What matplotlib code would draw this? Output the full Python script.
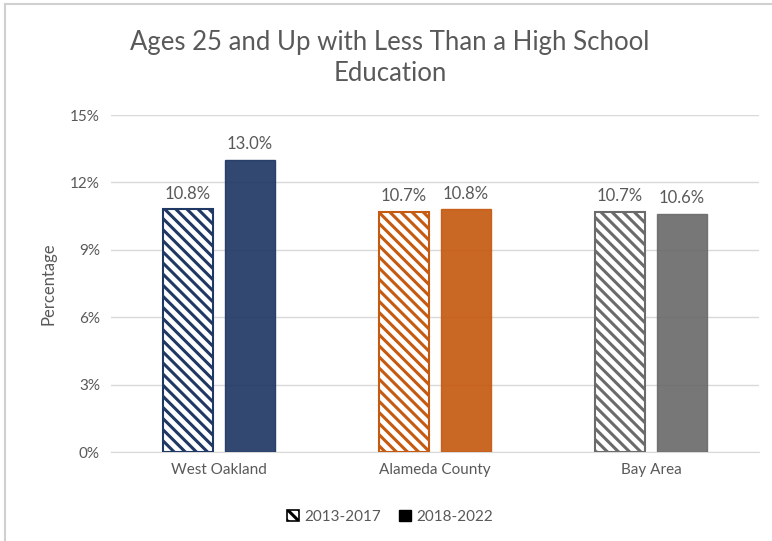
import matplotlib.pyplot as plt
from matplotlib.lines import Line2D
from matplotlib.patches import Patch
import numpy as np

plt.rcParams['font.family'] = ['Lato', 'DejaVu Sans']
plt.rcParams['hatch.linewidth'] = 2.2

categories = ["West Oakland", "Alameda County", "Bay Area"]
values_2013_2017 = [10.8, 10.7, 10.7]
values_2018_2022 = [13.0, 10.8, 10.6]
labels_2013_2017 = ["10.8%", "10.7%", "10.7%"]
labels_2018_2022 = ["13.0%", "10.8%", "10.6%"]
colors = ["#203864", "#C55A11", "#6B6B6B"]
yticks = [0, 3, 6, 9, 12, 15]
ytick_labels = ["0%", "3%", "6%", "9%", "12%", "15%"]

text_color = "#595959"

fig = plt.figure(figsize=(7.72, 5.41), dpi=100)
ax = fig.add_axes([0.1438, 0.1645, 0.8392, 0.6229])

x = np.arange(len(categories))
width = 0.23
offset = 0.1435

for i in range(len(categories)):
    ax.bar(x[i] - offset, values_2013_2017[i], width, facecolor="white",
           edgecolor=colors[i], hatch="\\\\\\", linewidth=1.5, zorder=3)
    ax.bar(x[i] + offset, values_2018_2022[i], width, color=colors[i],
           edgecolor=colors[i], linewidth=1, alpha=0.92, zorder=3)
    ax.text(x[i] - offset, values_2013_2017[i] + 0.35, labels_2013_2017[i],
            ha="center", va="bottom", fontsize=12, color=text_color)
    ax.text(x[i] + offset, values_2018_2022[i] + 0.35, labels_2018_2022[i],
            ha="center", va="bottom", fontsize=12, color=text_color)

ax.set_xlim(-0.5, 2.5)
ax.set_ylim(0, 15)
ax.set_yticks(yticks)
ax.set_yticklabels(ytick_labels)
ax.set_xticks(x)
ax.set_xticklabels(categories)
ax.tick_params(axis="both", length=0, labelsize=11, colors=text_color, pad=8)
ax.grid(axis="y", color="#D9D9D9", linewidth=1, zorder=0)
ax.set_axisbelow(True)
for s in ["top", "right", "left"]:
    ax.spines[s].set_visible(False)
ax.spines["bottom"].set_color("#D9D9D9")

ax.set_ylabel("Percentage", fontsize=12, color=text_color, labelpad=10)

fig.text(0.505, 0.893, "Ages 25 and Up with Less Than a High School\nEducation",
         ha="center", va="center", fontsize=18.5, color=text_color, linespacing=1.3)

handles = [Patch(facecolor="white", edgecolor="black", hatch="\\\\\\", linewidth=1.2),
           Patch(facecolor="black", edgecolor="black")]
fig.legend(handles, ["2013-2017", "2018-2022"], loc="center", bbox_to_anchor=(0.505, 0.045),
           ncol=2, frameon=False, fontsize=11, handlelength=0.8, handleheight=0.8,
           handletextpad=0.3, columnspacing=1.2, labelcolor=text_color)

# light border on the left and top of the chart area
fig.add_artist(Line2D([0.006, 0.006], [0.0, 0.993], color="#D0D0D0", linewidth=1.5))
fig.add_artist(Line2D([0.006, 1.0], [0.993, 0.993], color="#D0D0D0", linewidth=1.5))

fig.savefig("out.png", dpi=100)
